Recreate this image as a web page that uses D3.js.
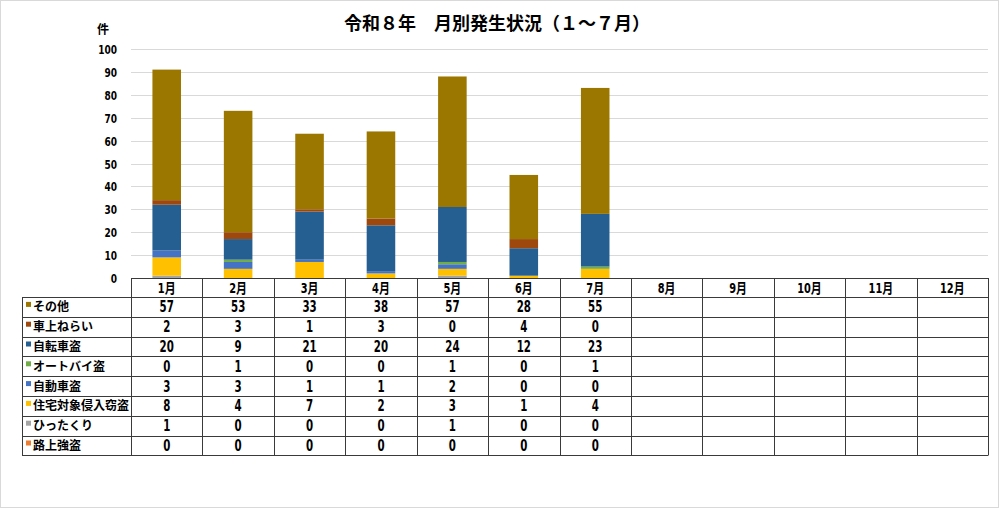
<!DOCTYPE html>
<html><head><meta charset="utf-8">
<script src="https://cdn.jsdelivr.net/npm/d3@7"></script>
<style>
html,body{margin:0;padding:0;background:#fff;}
svg{display:block;}
</style></head>
<body>
<svg id="c" width="1000" height="509"></svg>
<script>
const months = ["1月","2月","3月","4月","5月","6月","7月","8月","9月","10月","11月","12月"];
const dataMonths = ["1月","2月","3月","4月","5月","6月","7月"];
// table order (top to bottom)
const seriesNames = ["その他","車上ねらい","自転車盗","オートバイ盗","自動車盗","住宅対象侵入窃盗","ひったくり","路上強盗"];
const seriesColors = ["#9C7700","#9E480E","#255E91","#70AD47","#4472C4","#FFC000","#A5A5A5","#ED7D31"];
const sonota      = [57,53,33,38,57,28,55];
const shajou      = [2,3,1,3,0,4,0];
const jitensha    = [20,9,21,20,24,12,23];
const autobai     = [0,1,0,0,1,0,1];
const jidousha    = [3,3,1,1,2,0,0];
const juutaku     = [8,4,7,2,3,1,4];
const hittakuri   = [1,0,0,0,1,0,0];
const rojou       = [0,0,0,0,0,0,0];
const seriesValues = [sonota,shajou,jitensha,autobai,jidousha,juutaku,hittakuri,rojou];
const yTicks = [0,10,20,30,40,50,60,70,80,90,100];
const titleText = "令和８年　月別発生状況（１～７月）";
const unitText = "件";

const svg = d3.select("#c");
const W = 1000, H = 509;
const plotLeft = 131, plotRight = 988, plotTop = 49, plotBottom = 278;
const tableLeft = 22, headerH = 19, rowH = 19.8;

svg.append("rect").attr("x",0.5).attr("y",0.5).attr("width",W-2).attr("height",H-2)
  .attr("fill","#fff").attr("stroke","#D9D9D9");

const x = d3.scaleBand().domain(months).range([plotLeft, plotRight]).padding(0);
const y = d3.scaleLinear().domain([0,100]).range([plotBottom, plotTop]);

const numFont = "'DejaVu Sans Condensed','DejaVu Sans','Noto Sans CJK JP',sans-serif";

// gridlines
svg.append("g").selectAll("line").data(yTicks.filter(d=>d>0)).join("line")
  .attr("x1",plotLeft).attr("x2",plotRight)
  .attr("y1",d=>Math.round(y(d))+0.5).attr("y2",d=>Math.round(y(d))+0.5)
  .attr("stroke","#D9D9D9").attr("stroke-width",1.2);

// y axis labels (narrow)
const yAxis = d3.axisLeft(y).tickValues(yTicks).tickSize(0).tickPadding(0);
const ga = svg.append("g").attr("transform",`translate(${plotLeft-14},0)`).call(yAxis);
ga.select(".domain").remove();
ga.selectAll(".tick text").attr("x",0).attr("dy",null).attr("y",4.5)
  .attr("transform","scale(0.77,1)")
  .attr("font-family",numFont)
  .attr("font-weight","bold").attr("font-size",13).attr("fill","#000");

svg.append("text").attr("x",103).attr("y",34).attr("text-anchor","middle")
  .attr("font-family","'Noto Sans CJK JP',sans-serif").attr("font-weight","bold")
  .attr("font-size",12).text(unitText);

// stacked bars: bottom-up order is reverse of table order
const stackOrder = seriesNames.slice().reverse();
const rows = dataMonths.map((m,i)=>{
  const o = {month:m};
  seriesNames.forEach((s,k)=>{o[s]=seriesValues[k][i];});
  return o;
});
const stack = d3.stack().keys(stackOrder);
const stacked = stack(rows);
const colorOf = d3.scaleOrdinal().domain(seriesNames).range(seriesColors);
const bw = x.bandwidth()*0.4;
svg.append("g").selectAll("g").data(stacked).join("g")
  .attr("fill",d=>colorOf(d.key))
  .selectAll("rect").data(d=>d).join("rect")
  .attr("x",d=>x(d.data.month)+(x.bandwidth()-bw)/2)
  .attr("width",bw)
  .attr("y",d=>y(d[1]))
  .attr("height",d=>Math.max(0,y(d[0])-y(d[1])));

// title
svg.append("text").attr("x",497).attr("y",30).attr("text-anchor","middle")
  .attr("font-family","'Noto Sans CJK JP',sans-serif").attr("font-weight","bold")
  .attr("font-size",18).attr("fill","#000").text(titleText);

// table
const tb = svg.append("g");
const tableTop = plotBottom;
const bodyTop = tableTop + headerH;
const tableBottom = bodyTop + rowH*seriesNames.length;
const lineColor = "#3a3a3a";

// header row text
tb.selectAll("text.h").data(months).join("text").attr("class","h")
  .attr("transform",d=>`translate(${x(d)+x.bandwidth()/2},${tableTop+headerH/2+5}) scale(0.78,1)`)
  .attr("text-anchor","middle").attr("font-family",numFont).attr("font-weight","bold")
  .attr("font-size",14).text(d=>d);

// body values
seriesNames.forEach((s,k)=>{
  const cy = bodyTop + rowH*k + rowH/2;
  tb.append("rect").attr("x",tableLeft+4).attr("y",cy-5).attr("width",5).attr("height",5)
    .attr("fill",seriesColors[k]);
  tb.append("text").attr("x",tableLeft+11).attr("y",cy+4.5)
    .attr("font-family","'Noto Sans CJK JP',sans-serif").attr("font-weight","bold")
    .attr("font-size",12).text(s);
  tb.selectAll(null).data(seriesValues[k]).join("text")
    .attr("transform",(d,i)=>`translate(${x(dataMonths[i])+x.bandwidth()/2},${cy+5.5}) scale(0.76,1)`)
    .attr("text-anchor","middle").attr("font-family",numFont).attr("font-weight","bold")
    .attr("font-size",15).text(d=>d);
});

// grid lines of table
const hl = [tableTop];
for(let k=0;k<=seriesNames.length;k++) hl.push(bodyTop+rowH*k);
tb.selectAll("line.hz").data(hl).join("line").attr("class","hz")
  .attr("x1",(d,i)=>i===0?plotLeft:tableLeft).attr("x2",plotRight)
  .attr("y1",d=>Math.round(d)+0.5).attr("y2",d=>Math.round(d)+0.5)
  .attr("stroke",lineColor).attr("stroke-width",1);
const vx = months.map(m=>x(m)).concat([plotRight]);
tb.selectAll("line.vt").data(vx).join("line").attr("class","vt")
  .attr("x1",d=>Math.round(d)+0.5).attr("x2",d=>Math.round(d)+0.5)
  .attr("y1",tableTop).attr("y2",Math.round(tableBottom)+0.5)
  .attr("stroke",lineColor).attr("stroke-width",1);
tb.append("line").attr("x1",tableLeft+0.5).attr("x2",tableLeft+0.5)
  .attr("y1",Math.round(bodyTop)+0.5).attr("y2",Math.round(tableBottom)+0.5)
  .attr("stroke",lineColor);
</script>
</body></html>
